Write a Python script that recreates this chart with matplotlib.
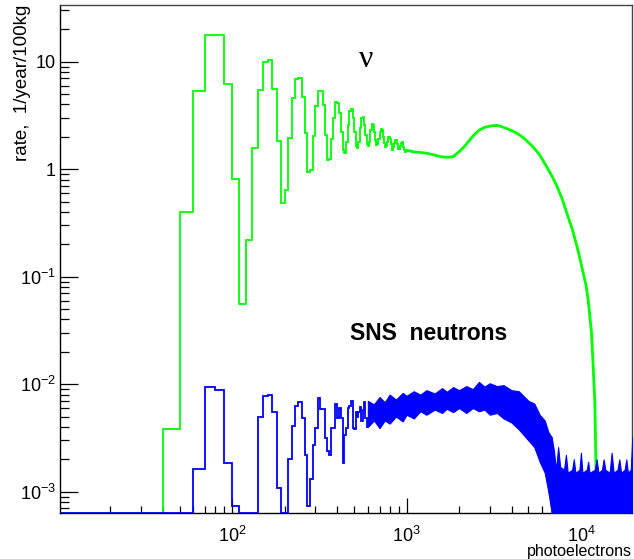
import numpy as np
import matplotlib
matplotlib.use("Agg")
import matplotlib.pyplot as plt
from matplotlib.ticker import FixedLocator, FixedFormatter, NullFormatter

# histogram binning (photoelectrons), 10 pe per bin starting at 10
bin_start = 10
bin_width = 10

# neutrino (green), bins 10..990
green_bins = [
    0, 0, 0, 0.0038, 0.40, 5.35, 17.8, 17.8, 6.2,
    0.81, 0.056, 0.22, 1.59, 5.46, 10.0, 10.3, 5.6, 1.82, 0.48,
    0.64, 1.94, 4.57, 6.9, 7.1, 4.73, 2.19, 0.94, 0.99, 2.05,
    3.87, 5.37, 5.3, 3.95, 2.1, 1.22, 1.25, 1.9, 3.0, 4.2,
    4.15, 3.3, 2.2, 1.5, 1.41, 1.8, 2.6, 3.5, 3.6, 3.0,
    2.2, 1.65, 1.57, 1.8, 2.4, 3.0, 3.04, 2.6, 2.1, 1.7,
    1.65, 1.8, 2.3, 2.63, 2.55, 2.2, 1.85, 1.69, 1.7, 1.9,
    2.2, 2.35, 2.3, 2.0, 1.75, 1.6, 1.65, 1.8, 2.0, 2.01,
    1.9, 1.7, 1.55, 1.51, 1.6, 1.75, 1.87, 1.85, 1.7, 1.55,
    1.5, 1.55, 1.65, 1.75, 1.8, 1.75, 1.6, 1.5, 1.45, 1.5,
]
# neutrino above 1000 pe
green_pe = [1000, 1100, 1200, 1300, 1400, 1600, 1750, 1850, 2000, 2150, 2300,
            2450, 2600, 2800, 3100, 3350, 3600, 3900, 4300, 4700, 5300, 5800,
            6300, 6800, 7300, 7800, 8300, 8900, 9500, 9900, 10300, 10700,
            11000, 11500, 11750, 12000, 12100, 12200, 12300]
green_rate = [1.5, 1.45, 1.43, 1.41, 1.37, 1.30, 1.29, 1.31, 1.45, 1.63, 1.87,
              2.1, 2.30, 2.45, 2.54, 2.55, 2.45, 2.33, 2.16, 1.95, 1.62, 1.36,
              1.08, 0.87, 0.69, 0.53, 0.39, 0.28, 0.19, 0.145, 0.108, 0.083,
              0.061, 0.030, 0.0147, 0.0072, 0.0035, 0.0017, 0.0008]

# SNS neutrons (blue), bins 10..590
blue_bins = [
    0, 0, 0, 0, 0, 1.64e-3, 9.5e-3, 8.8e-3, 1.85e-3,
    7.3e-4, 0, 0, 0, 5.0e-3, 7.7e-3, 8.0e-3, 5.5e-3, 1.08e-3, 0,
    0, 2.0e-3, 4.06e-3, 6.3e-3, 6.8e-3, 4.9e-3, 2.2e-3, 7.3e-4, 1.3e-3, 2.74e-3,
    3.9e-3, 7.5e-3, 5.9e-3, 5.9e-3, 3.16e-3, 2.37e-3, 2.2e-3, 3.9e-3, 3.9e-3, 6.6e-3,
    4.9e-3, 6.0e-3, 4.9e-3, 1.85e-3, 3.4e-3, 3.9e-3, 6.0e-3, 6.3e-3, 7.0e-3, 3.9e-3,
    3.8e-3, 5.5e-3, 5.0e-3, 5.5e-3, 6.2e-3, 4.5e-3, 5.8e-3, 6.8e-3, 4.8e-3, 4.0e-3,
]
# SNS neutrons 600..6800 pe: spread (low / high) of the fluctuating bins
blue_pe = [600, 650, 700, 750, 800, 870, 950, 1000, 1100, 1200, 1300, 1450,
           1600, 1700, 1850, 2000, 2200, 2400, 2600, 2800, 3000, 3300, 3600,
           4000, 4400, 5000, 5400, 5800, 6200, 6500, 6800]
blue_lo = [4.0e-3, 4.6e-3, 3.9e-3, 4.6e-3, 4.3e-3, 5.0e-3, 4.5e-3, 5.2e-3,
           4.8e-3, 5.6e-3, 5.2e-3, 5.8e-3, 5.4e-3, 5.9e-3, 5.5e-3, 6.0e-3,
           5.4e-3, 6.0e-3, 5.6e-3, 5.8e-3, 5.2e-3, 5.4e-3, 4.8e-3, 4.4e-3,
           3.8e-3, 3.0e-3, 2.6e-3, 1.9e-3, 1.5e-3, 1.0e-3, 0]
blue_hi = [7.0e-3, 6.5e-3, 7.6e-3, 6.8e-3, 8.0e-3, 7.2e-3, 8.3e-3, 7.8e-3,
           8.6e-3, 8.0e-3, 8.8e-3, 8.2e-3, 9.2e-3, 8.5e-3, 9.4e-3, 8.8e-3,
           9.6e-3, 9.0e-3, 1.05e-2, 9.5e-3, 1.02e-2, 9.6e-3, 9.8e-3, 8.8e-3,
           8.6e-3, 7.0e-3, 6.6e-3, 5.2e-3, 4.6e-3, 3.6e-3, 3.2e-3]
# SNS neutrons above 6800 pe: top of the bins (many bins are empty)
blue_floor_pe = [6800, 7000, 7200, 7400, 7600, 8000, 8200, 8400, 8900, 9100,
                 9300, 9800, 10000, 10200, 10800, 11000, 11200, 12000, 12300,
                 12600, 13200, 13500, 13800, 14600, 15000, 15400, 16200, 16600,
                 17000, 17800, 18200, 18600, 19300, 19700]
blue_floor_hi = [3.2e-3, 2.4e-3, 1.6e-3, 2.6e-3, 1.7e-3, 1.6e-3, 2.2e-3, 1.5e-3,
                 1.6e-3, 2.0e-3, 1.5e-3, 1.6e-3, 2.3e-3, 1.5e-3, 1.6e-3, 1.9e-3,
                 1.5e-3, 1.6e-3, 2.0e-3, 1.5e-3, 1.6e-3, 2.0e-3, 1.6e-3, 1.5e-3,
                 2.3e-3, 1.5e-3, 1.6e-3, 2.0e-3, 1.5e-3, 1.6e-3, 2.0e-3, 1.5e-3,
                 1.6e-3, 3.2e-3]

y_ticks = [1e-3, 1e-2, 1e-1, 1, 10]
y_ticklabels = ["$10^{-3}$", "$10^{-2}$", "$10^{-1}$", "1", "10"]
x_ticks = [1e2, 1e3, 1e4]
x_ticklabels = ["$10^{2}$", "$10^{3}$", "$10^{4}$"]

XMIN, XMAX = 10.3, 19700
YMIN, YMAX = 6.3e-4, 33.9
GREEN = "#00ff00"
BLUE = "#0000ff"


def main():
    plt.rcParams["font.family"] = ["Liberation Sans", "DejaVu Sans"]
    plt.rcParams["mathtext.fontset"] = "custom"
    plt.rcParams["mathtext.rm"] = "Liberation Sans"
    plt.rcParams["mathtext.it"] = "Liberation Sans"

    fig = plt.figure(figsize=(6.34, 5.59), dpi=100)
    ax = fig.add_axes([0.0946, 0.0818, 0.9027, 0.9098])
    ax.set_xscale("log")
    ax.set_yscale("log")

    # green histogram
    g = np.clip(np.array(green_bins), YMIN, None)
    g_edges = bin_start + bin_width * np.arange(len(g) + 1)
    ax.stairs(g, g_edges, color=GREEN, lw=1.3, baseline=None, zorder=3)
    ax.plot(green_pe, green_rate, color=GREEN, lw=2.0, zorder=3)

    # blue histogram
    b = np.clip(np.array(blue_bins), YMIN, None)
    b_edges = bin_start + bin_width * np.arange(len(b) + 1)
    ax.stairs(b, b_edges, color=BLUE, lw=1.3, baseline=None, zorder=4)
    ax.fill_between(blue_pe, np.clip(blue_lo, YMIN, None), blue_hi,
                    color=BLUE, lw=0.8, zorder=4)
    ax.fill_between(blue_floor_pe, YMIN, blue_floor_hi,
                    color=BLUE, lw=0.8, zorder=4)

    ax.set_xlim(XMIN, XMAX)
    ax.set_ylim(YMIN, YMAX)

    ax.yaxis.set_major_locator(FixedLocator(y_ticks))
    ax.yaxis.set_major_formatter(FixedFormatter(y_ticklabels))
    ax.xaxis.set_major_locator(FixedLocator(x_ticks))
    ax.xaxis.set_major_formatter(FixedFormatter(x_ticklabels))
    ax.xaxis.set_minor_formatter(NullFormatter())
    ax.yaxis.set_minor_formatter(NullFormatter())

    ax.tick_params(axis="y", which="major", direction="in", length=13, width=0.9,
                   labelsize=13, pad=3)
    ax.tick_params(axis="y", which="minor", direction="in", length=6.5, width=0.9)
    ax.tick_params(axis="x", which="major", direction="in", length=11, width=0.9,
                   labelsize=13, pad=9)
    ax.tick_params(axis="x", which="minor", direction="in", length=5, width=0.9)
    for s in ax.spines.values():
        s.set_linewidth(1.0)
    ax.spines["top"].set_color("#444444")
    ax.spines["right"].set_color("#444444")

    ax.set_ylabel("rate,  1/year/100kg", loc="top", fontsize=13.5)
    ax.yaxis.set_label_coords(-0.05, 1.0)
    fig.text(0.997, 0.0, "photoelectrons", ha="right", va="bottom", fontsize=11.5)

    ax.text(0.535, 0.893, "\u03bd", transform=ax.transAxes, ha="center", va="center",
            fontsize=23, family=["Liberation Serif", "DejaVu Serif"])
    ax.text(0.645, 0.354, "SNS  neutrons", transform=ax.transAxes, ha="center",
            va="center", fontsize=16.5, fontweight="bold")

    fig.savefig("out.png", dpi=100)
    plt.close(fig)


if __name__ == "__main__":
    main()
